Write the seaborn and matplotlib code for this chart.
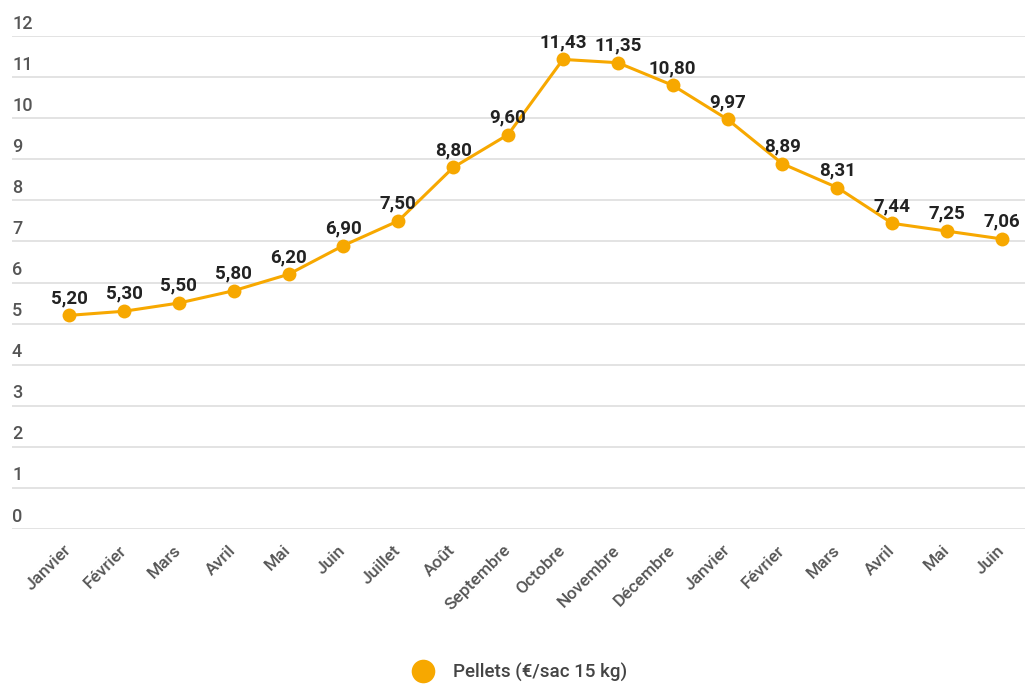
"""
Prix des pellets (€/sac 15 kg) sur 18 mois.
"""

import matplotlib
matplotlib.use('Agg')
import matplotlib.pyplot as plt
import matplotlib.transforms as mtransforms
from matplotlib.lines import Line2D
import seaborn as sns
import pandas as pd

months = ['Janvier', 'Février', 'Mars', 'Avril', 'Mai', 'Juin', 'Juillet', 'Août',
          'Septembre', 'Octobre', 'Novembre', 'Décembre', 'Janvier', 'Février',
          'Mars', 'Avril', 'Mai', 'Juin']
prices = [5.20, 5.30, 5.50, 5.80, 6.20, 6.90, 7.50, 8.80, 9.60, 11.43, 11.35,
          10.80, 9.97, 8.89, 8.31, 7.44, 7.25, 7.06]
y_ticks = list(range(0, 13))
series_name = 'Pellets (€/sac 15 kg)'

ORANGE = '#F7A800'

sns.set_style('white')
plt.rcParams['font.family'] = ['Roboto', 'DejaVu Sans']

df = pd.DataFrame({'idx': range(len(prices)), 'prix': prices})

fig = plt.figure(figsize=(10.25, 6.86), dpi=100)
ax = fig.add_axes([12 / 1025, 157 / 686, 1013 / 1025, 493 / 686])

sns.lineplot(data=df, x='idx', y='prix', ax=ax, color=ORANGE, linewidth=2.2,
             marker='o', markersize=10, markeredgewidth=0, zorder=3)

ax.set_xlim(-1.04, 17.42)
ax.set_ylim(0, 12)
ax.set_yticks(y_ticks)
ax.grid(axis='y', color='#e0e0e0', linewidth=1.3)
ax.set_axisbelow(True)
ax.tick_params(axis='y', left=False, labelleft=False)
for s in ax.spines.values():
    s.set_visible(False)

# étiquettes de l'axe Y posées au-dessus des lignes de grille
trans = mtransforms.blended_transform_factory(ax.transAxes, ax.transData)
shift = mtransforms.ScaledTranslation(0, 2.5 / 72, fig.dpi_scale_trans)
for t in y_ticks:
    ax.text(0, t, str(t), transform=trans + shift, ha='left', va='bottom',
            fontsize=13, fontweight='medium', color='#555555')

ax.set_xticks(range(len(months)))
ax.set_xticklabels(months, rotation=45, ha='right', va='center',
                   rotation_mode='anchor', fontsize=12.5, fontweight='medium',
                   color='#555555')
ax.tick_params(axis='x', bottom=False, pad=10)
ax.set_xlabel('')
ax.set_ylabel('')

# valeurs au-dessus des points
for i, v in enumerate(prices):
    ax.annotate(f'{v:.2f}'.replace('.', ','), (i, v), xytext=(0, 6),
                textcoords='offset points', ha='center', va='bottom',
                fontsize=13.5, fontweight='bold', color='#222222')

handle = Line2D([], [], linestyle='none', marker='o', markersize=17,
                color=ORANGE, markeredgewidth=0)
fig.legend([handle], [series_name], loc='center', bbox_to_anchor=(0.503, 0.02),
           frameon=False, prop={'size': 13.5, 'weight': 'medium'},
           labelcolor='#444444', handletextpad=0.6)

plt.savefig('out.png', dpi=100)
plt.close()
